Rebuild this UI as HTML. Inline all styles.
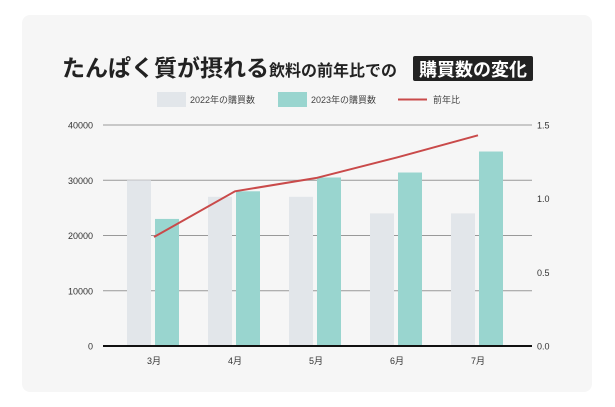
<!DOCTYPE html>
<html><head><meta charset="utf-8"><style>
body{margin:0;width:615px;height:407px;background:#fff;font-family:"Liberation Sans","Noto Sans CJK JP",sans-serif;overflow:hidden}
.card{position:absolute;left:22px;top:15px;width:570px;height:377px;background:#f6f6f6;border-radius:8px}
</style></head><body>
<div class="card"></div>
<svg width="615" height="407" style="position:absolute;left:0;top:0">
<text x="62" y="76" font-size="23" font-weight="bold" fill="#222">たんぱく質が摂れる<tspan font-size="16">飲料の前年比での</tspan></text>
<rect x="413" y="56" width="120" height="25" fill="#222" rx="2"/>
<text x="419" y="76" font-size="18" font-weight="bold" fill="#fff">購買数の変化</text>
<g font-size="9" fill="#444">
<rect x="157" y="92" width="29" height="15" fill="#e2e6ea"/>
<text x="190" y="103">2022年の購買数</text>
<rect x="278" y="92" width="29" height="15" fill="#99d5cf"/>
<text x="311" y="103">2023年の購買数</text>
<line x1="398" y1="99.5" x2="427" y2="99.5" stroke="#c94a4a" stroke-width="2"/>
<text x="433" y="103">前年比</text>
</g>
<g id="plot"></g>
</svg>
<script>
const categories=["3月","4月","5月","6月","7月"];
const sales2022=[30000,27000,27000,24000,24000];
const sales2023=[23000,28000,30500,31400,35200];
const yoy=[0.74,1.05,1.14,1.28,1.43];
const leftTicks=[0,10000,20000,30000,40000];
const rightTicks=["0.0","0.5","1.0","1.5"];
const NS="http://www.w3.org/2000/svg";
const g=document.getElementById('plot');
const y0=346,y1=125,xl=103,xr=532;
const yL=v=>y0-(v/40000)*(y0-y1);
const yR=v=>y0-(v/1.5)*(y0-y1);
const xC=i=>154+i*81;
function mk(t,a){const e=document.createElementNS(NS,t);for(const k in a)e.setAttribute(k,a[k]);g.appendChild(e);return e;}
leftTicks.forEach(v=>{
 const l=mk('line',{x1:xl,x2:xr,y1:yL(v),y2:yL(v),stroke:v===0?'#111':'#999','stroke-width':v===0?2:1});
 
 
 const t=mk('text',{x:93,y:yL(v)+3.5,'font-size':9,fill:'#333','text-anchor':'end'});t.textContent=v;
 
 
});
rightTicks.forEach(s=>{
 const t=mk('text',{x:537,y:yR(parseFloat(s))+3.5,'font-size':9,fill:'#333'});t.textContent=s;
 
 
});
categories.forEach((c,i)=>{
 const a=mk('rect',{x:xC(i)-27,y:yL(sales2022[i]),width:24,height:y0-yL(sales2022[i]),fill:'#e2e6ea'});
 
 
 const b=mk('rect',{x:xC(i)+1,y:yL(sales2023[i]),width:24,height:y0-yL(sales2023[i]),fill:'#99d5cf'});
 
 
 const t=mk('text',{x:xC(i),y:364,'font-size':9,fill:'#333','text-anchor':'middle'});t.textContent=c;
 
 
});
g.appendChild(g.querySelector('line'));
const p=mk('polyline',{points:yoy.map((v,i)=>xC(i)+','+yR(v)).join(' '),fill:'none',stroke:'#c94a4a','stroke-width':2});


</script>
</body></html>
